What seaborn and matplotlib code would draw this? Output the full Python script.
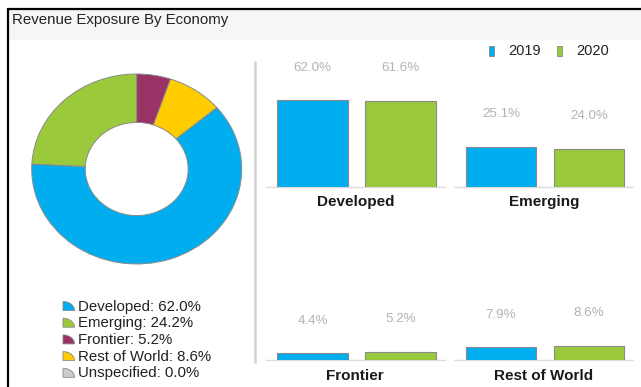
import numpy as np
import matplotlib
matplotlib.use("Agg")
import matplotlib.pyplot as plt
import matplotlib.patches as mpatches
import seaborn as sns

# ---- data -------------------------------------------------------------
economies = ["Developed", "Emerging", "Frontier", "Rest of World", "Unspecified"]
shares = [62.0, 24.2, 5.2, 8.6, 0.0]

years = ["2019", "2020"]
panel_names = ["Developed", "Emerging", "Frontier", "Rest of World"]
values_2019 = [62.0, 25.1, 4.4, 7.9]
values_2020 = [61.6, 24.0, 5.2, 8.6]

title = "Revenue Exposure By Economy"

# ---- style ------------------------------------------------------------
sns.set_style("white")
plt.rcParams["font.family"] = ["Liberation Sans", "DejaVu Sans"]

eco_colors = {
    "Developed": "#00AEEF",
    "Emerging": "#9ACA3C",
    "Frontier": "#993366",
    "Rest of World": "#FFCC00",
    "Unspecified": "#CCCCCC",
}
year_colors = ["#00AEEF", "#9ACA3C"]
edge_gray = "#8a8a8a"

W, H = 641, 387
fig = plt.figure(figsize=(W / 100, H / 100), dpi=100)


def px_rect(x0, y0, x1, y1):
    """Axes rectangle from pixel coordinates (origin top-left)."""
    return [x0 / W, 1 - y1 / H, (x1 - x0) / W, (y1 - y0) / H]


# ---- background canvas: frame, title bar, separators, legends ----------
bg = fig.add_axes([0, 0, 1, 1], zorder=-1)
bg.set_xlim(0, W)
bg.set_ylim(H, 0)
bg.axis("off")

bg.add_patch(mpatches.Rectangle((9, 9), W - 9, 31, facecolor="#f6f6f6",
                                edgecolor="none"))
bg.plot([8, 8], [8, H], color="black", lw=1.6, solid_capstyle="butt")
bg.plot([8, W], [9, 9], color="black", lw=1.6, solid_capstyle="butt")
bg.text(12, 24, title, fontsize=10.8, color="#222222", va="baseline", ha="left")

# vertical divider between the donut and the bar panels
bg.plot([255, 255], [62, 362], color="#d2d2d2", lw=1.8)

# donut legend with quarter-wedge markers
theta = np.linspace(0, np.pi / 2, 30)
for i, (name, s) in enumerate(zip(economies, shares)):
    base = 310.5 + 16.7 * i
    xs = np.concatenate([[63], 63 + 11.5 * np.cos(theta), [63]])
    ys = np.concatenate([[base], base - 9 * np.sin(theta), [base]])
    bg.add_patch(mpatches.Polygon(np.column_stack([xs, ys]), closed=True,
                                  facecolor=eco_colors[name],
                                  edgecolor="#888888", lw=0.6))
    bg.text(77.5, base, f"{name}: {s:.1f}%", fontsize=10.8, color="#222222",
            va="baseline", ha="left")

# year legend for the bar panels
for x_mark, x_text, yr, col in [(489, 508, years[0], year_colors[0]),
                                (556.5, 576, years[1], year_colors[1])]:
    bg.add_patch(mpatches.Rectangle((x_mark, 45.5), 5, 10, facecolor=col,
                                    edgecolor="#777777", lw=0.5))
    bg.text(x_text, 51, yr, fontsize=10.5, color="#222222", va="center",
            ha="left")

# ---- donut --------------------------------------------------------------
pie_order = ["Emerging", "Developed", "Rest of World", "Frontier"]
pie_vals = [shares[economies.index(n)] for n in pie_order]
ax_pie = fig.add_axes(px_rect(31.7, 74, 241.7, 264))
ax_pie.pie(pie_vals, colors=[eco_colors[n] for n in pie_order],
           startangle=90, counterclock=True, radius=1.0,
           wedgeprops=dict(width=0.51, edgecolor="#8a8a8a", linewidth=0.7))
ax_pie.set_aspect("auto")
ax_pie.set_xlim(-1, 1)
ax_pie.set_ylim(-1, 1)
ax_pie.axis("off")

# ---- bar panels ---------------------------------------------------------
panel_boxes = [
    (265.8, 66.5, 444.8, 186.5),
    (454.3, 66.5, 633.3, 186.5),
    (265.8, 240.0, 444.8, 360.0),
    (454.3, 240.0, 633.3, 360.0),
]
panel_ymax = [86.5, 76.0, 78.0, 74.0]

for name, v19, v20, box, ymax in zip(panel_names, values_2019, values_2020,
                                     panel_boxes, panel_ymax):
    ax = fig.add_axes(px_rect(*box))
    vals = [v19, v20]
    sns.barplot(x=years, y=vals, hue=years, palette=year_colors, ax=ax,
                width=0.8, saturation=1, edgecolor=edge_gray, linewidth=0.8,
                legend=False)
    ax.set_xlim(-0.53, 1.5)
    ax.set_ylim(0, ymax)
    ax.axis("off")
    ax.axhline(0, color="#dcdcdc", lw=1.0, clip_on=False, zorder=0)
    for i, v in enumerate(vals):
        ax.annotate(f"{v:.1f}%", xy=(i, v), xytext=(0, 23.5),
                    textcoords="offset points", ha="center", va="center",
                    fontsize=9.6, color="#b3b3b3")
    ax.annotate(name, xy=(0.5, 0), xycoords="axes fraction",
                xytext=(0, -11.5), textcoords="offset points",
                ha="center", va="center", fontsize=11, fontweight="bold",
                color="#1a1a1a")

fig.savefig("out.png", dpi=100)
